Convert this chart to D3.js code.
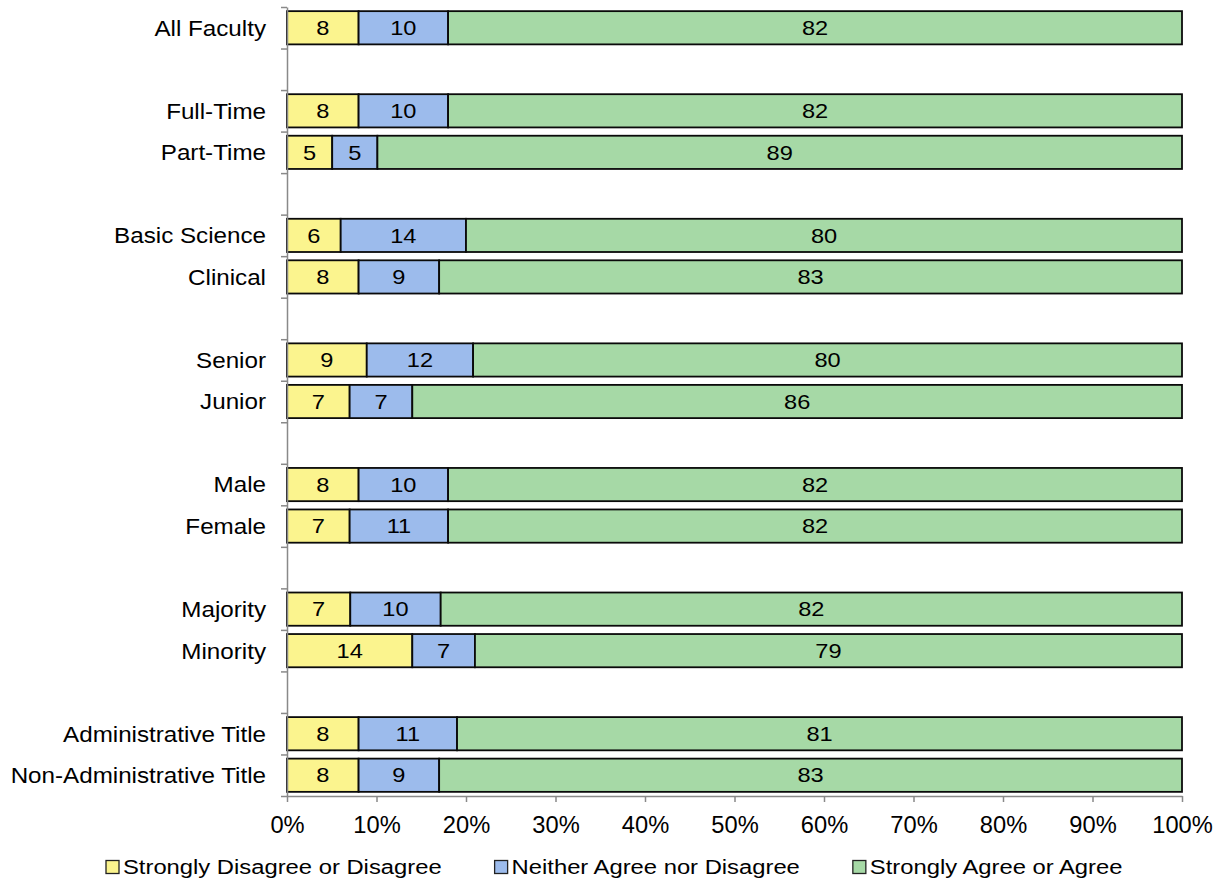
<!DOCTYPE html>
<html>
<head>
<meta charset="utf-8">
<script src="https://cdn.jsdelivr.net/npm/d3@7"></script>
<style>
  html, body { margin: 0; padding: 0; background: #fff; }
  svg { display: block; font-family: "Liberation Sans", Arial, sans-serif; }
</style>
</head>
<body>
<svg id="chart" width="1218" height="881"></svg>
<script>
// Row labels, top to bottom; empty strings are spacer rows between groups.
const categories = [
  "All Faculty", "",
  "Full-Time", "Part-Time", "",
  "Basic Science", "Clinical", "",
  "Senior", "Junior", "",
  "Male", "Female", "",
  "Majority", "Minority", "",
  "Administrative Title", "Non-Administrative Title"
];

// Percent of respondents per response group (null on spacer rows).
const disagree = [8, null, 8, 5, null, 6, 8, null, 9, 7, null, 8, 7, null, 7, 14, null, 8, 8];
const neutral  = [10, null, 10, 5, null, 14, 9, null, 12, 7, null, 10, 11, null, 10, 7, null, 11, 9];
const agree    = [82, null, 82, 89, null, 80, 83, null, 80, 86, null, 82, 82, null, 82, 79, null, 81, 83];

const seriesNames = [
  "Strongly Disagree or Disagree",
  "Neither Agree nor Disagree",
  "Strongly Agree or Agree"
];
const seriesColors = ["#FBF48E", "#9CBBEC", "#A6D9A6"];
const xTicks = [0, 0.1, 0.2, 0.3, 0.4, 0.5, 0.6, 0.7, 0.8, 0.9, 1.0];

const svg = d3.select("#chart");
const W = 1218, H = 881;
const margin = { top: 7, right: 36, bottom: 85, left: 287 };

// Text styles: size and horizontal widening factor
const CAT = { size: 22, sx: 1.10 };
const VAL = { size: 20, sx: 1.18 };
const AXT = { size: 23, sx: 1.03 };
const LEG = { size: 20, sx: 1.19 };

const rows = categories.map((c, i) => ({
  idx: i, label: c,
  d: disagree[i], n: neutral[i], a: agree[i]
}));
const dataRows = rows.filter(r => r.label !== "");

const x = d3.scaleLinear().domain([0, 1]).range([margin.left, W - margin.right]);
const y = d3.scaleBand()
  .domain(rows.map(r => r.idx))
  .range([margin.top, H - margin.bottom])
  .paddingInner(0.2)
  .paddingOuter(0.1);

// 100% stacked layout
const keys = ["d", "n", "a"];
const stacked = d3.stack().keys(keys).offset(d3.stackOffsetExpand)(dataRows);

const gBars = svg.append("g");
const gVals = svg.append("g");
stacked.forEach((layer, li) => {
  gBars.append("g").attr("fill", seriesColors[li])
    .selectAll("rect")
    .data(layer)
    .join("rect")
    .attr("x", s => x(s[0]))
    .attr("width", s => x(s[1]) - x(s[0]))
    .attr("y", s => y(s.data.idx))
    .attr("height", y.bandwidth())
    .attr("stroke", "#0a0a0a")
    .attr("stroke-width", 1.8);

  gVals.append("g").selectAll("text")
    .data(layer)
    .join("text")
    .attr("transform", s =>
      `translate(${(x(s[0]) + x(s[1])) / 2},${y(s.data.idx) + y.bandwidth() / 2}) scale(${VAL.sx},1)`)
    .attr("dy", "0.36em")
    .attr("text-anchor", "middle")
    .attr("font-size", VAL.size)
    .attr("fill", "#000")
    .text(s => s.data[keys[li]]);
});

// Category axis: boundary ticks between rows
const yEdges = d3.scaleLinear().domain([0, categories.length]).range([margin.top, H - margin.bottom]);
const yAxis = svg.append("g")
  .attr("transform", `translate(${margin.left},0)`)
  .call(d3.axisLeft(yEdges)
    .tickValues(d3.range(0, categories.length + 1))
    .tickFormat("")
    .tickSize(6)
    .tickSizeOuter(0));
yAxis.selectAll("line, path").attr("stroke", "#898989").attr("stroke-width", 1.5);

svg.append("g").selectAll("text")
  .data(dataRows)
  .join("text")
  .attr("transform", r =>
    `translate(${margin.left - 21},${y(r.idx) + y.bandwidth() / 2}) scale(${CAT.sx},1)`)
  .attr("dy", "0.36em")
  .attr("text-anchor", "end")
  .attr("font-size", CAT.size)
  .attr("fill", "#000")
  .text(r => r.label);

// Percentage axis
const xAxis = svg.append("g")
  .attr("transform", `translate(0,${H - margin.bottom})`)
  .call(d3.axisBottom(x)
    .tickValues(xTicks)
    .tickFormat(d3.format(".0%"))
    .tickSize(6)
    .tickSizeOuter(0)
    .tickPadding(15));
xAxis.selectAll("line, path").attr("stroke", "#898989").attr("stroke-width", 1.5);
xAxis.selectAll("text")
  .attr("font-size", AXT.size)
  .attr("fill", "#000")
  .attr("font-family", "Liberation Sans, Arial, sans-serif")
  .attr("transform", `scale(${AXT.sx},1)`);

// Legend
const legend = svg.append("g").attr("transform", "translate(106,867)");
let lx = 0;
seriesNames.forEach((name, i) => {
  const item = legend.append("g").attr("transform", `translate(${lx},0)`);
  item.append("rect")
    .attr("x", 0).attr("y", -6.5)
    .attr("width", 13).attr("height", 13)
    .attr("fill", seriesColors[i])
    .attr("stroke", "#222").attr("stroke-width", 1.3);
  const t = item.append("text")
    .attr("transform", `translate(17,0) scale(${LEG.sx},1)`)
    .attr("dy", "0.36em")
    .attr("font-size", LEG.size).attr("fill", "#000")
    .text(name);
  lx += 17 + t.node().getComputedTextLength() * LEG.sx + 53;
});
</script>
</body>
</html>
